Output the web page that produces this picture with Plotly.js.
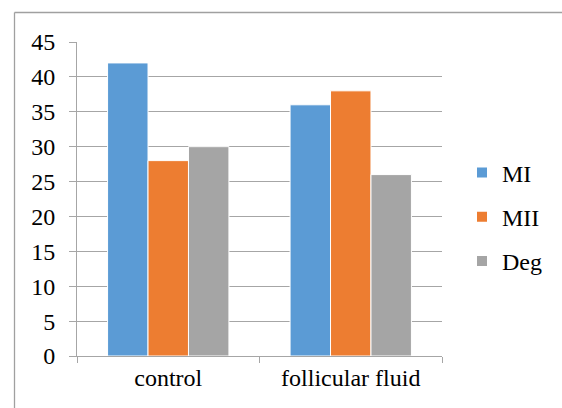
<!DOCTYPE html>
<html>
<head>
<meta charset="utf-8">
<script src="https://cdn.plot.ly/plotly-3.0.1.min.js"></script>
<style>
html,body{margin:0;padding:0;background:#fff;}
#chart{width:562px;height:408px;}
</style>
</head>
<body>
<div id="chart"></div>
<script>
var categories = ["control", "follicular fluid"];
var seriesNames = ["MI", "MII", "Deg"];
var MI = [42, 36];
var MII = [28, 38];
var Deg = [30, 26];
var yTicks = [0, 5, 10, 15, 20, 25, 30, 35, 40, 45];
var colors = ["#5b9bd5", "#ed7d31", "#a5a5a5"];

var values = [MI, MII, Deg];
var traces = values.map(function (v, i) {
  return {
    type: "bar",
    name: seriesNames[i],
    x: categories,
    y: v,
    showlegend: false,
    marker: { color: colors[i], line: { color: "#ffffff", width: 1 } },
    hoverinfo: "none"
  };
});
// legend-only entries with small square swatches
seriesNames.forEach(function (n, i) {
  traces.push({
    type: "scatter", mode: "markers", name: n,
    x: [null], y: [null],
    legendgroup: "g" + i,
    marker: { symbol: "square", size: 10, color: colors[i] },
    hoverinfo: "none"
  });
});

var font = { family: "Times New Roman", size: 24, color: "#000" };
var L = 77, R = 442, T = 42, B = 356;
var pw = R - L, ph = B - T;

var layout = {
  width: 562, height: 408,
  margin: { l: L, r: 562 - R, t: T, b: 408 - B, pad: 0 },
  paper_bgcolor: "#fff", plot_bgcolor: "#fff",
  barmode: "group",
  bargap: 0.335,
  bargroupgap: 0,
  font: font,
  showlegend: true,
  legend: {
    x: (462 - L) / pw, xanchor: "left",
    y: (356 - 217) / ph, yanchor: "middle",
    font: font,
    itemwidth: 30,
    tracegroupgap: 10,
    bgcolor: "rgba(0,0,0,0)"
  },
  xaxis: {
    type: "category",
    showgrid: false,
    showline: true, linecolor: "#a6a6a6", linewidth: 1,
    ticks: "outside", tickson: "boundaries", ticklen: 6, tickcolor: "#a6a6a6",
    tickfont: font,
    fixedrange: true
  },
  yaxis: {
    range: [0, 45],
    tickvals: yTicks,
    ticktext: yTicks.map(String),
    showgrid: true, gridcolor: "#a6a6a6", gridwidth: 1,
    zeroline: false,
    showline: true, linecolor: "#a6a6a6", linewidth: 1,
    ticks: "outside", ticklen: 7, tickcolor: "#a6a6a6",
    ticklabelstandoff: 9,
    tickfont: font,
    fixedrange: true
  },
  shapes: [
    { type: "line", xref: "paper", yref: "paper",
      x0: (14.5 - L) / pw, x1: (14.5 - L) / pw, y0: (B - 12.5) / ph, y1: (B - 420) / ph,
      line: { color: "#a0a0a0", width: 1.3 } },
    { type: "line", xref: "paper", yref: "paper",
      x0: (14.5 - L) / pw, x1: (570 - L) / pw, y0: (B - 12.5) / ph, y1: (B - 12.5) / ph,
      line: { color: "#a0a0a0", width: 1.3 } }
  ]
};

Plotly.newPlot("chart", traces, layout, { displayModeBar: false, staticPlot: true });
</script>
</body>
</html>
